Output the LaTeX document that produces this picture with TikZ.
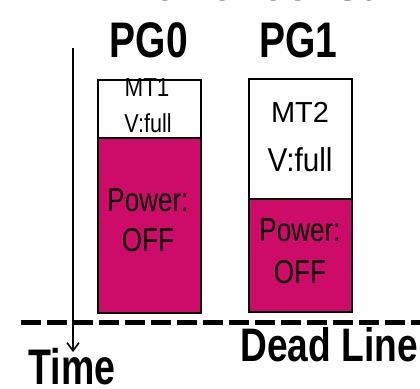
\documentclass[tikz,border=0pt]{standalone}
\usepackage{fontspec}
\setmainfont{Liberation Sans}
\usetikzlibrary{arrows.meta}
\definecolor{pwroff}{RGB}{205,12,105}
\newcommand{\sq}[2]{\scalebox{#1}[1]{#2}}
\tikzset{
  membox/.style={draw=black, line width=1.6pt, fill=white, anchor=north west, inner sep=0pt},
  offbox/.style={draw=black, line width=1.6pt, fill=pwroff, anchor=north west, inner sep=0pt},
  big/.style={inner sep=0pt, font=\fontsize{50}{50}\selectfont\bfseries},
  mid/.style={inner sep=0pt, font=\fontsize{47}{47}\selectfont\bfseries},
  intxt/.style={inner sep=0pt, font=\fontsize{33}{33}\selectfont},
  smalltxt/.style={inner sep=0pt, font=\fontsize{26}{26}\selectfont},
}
\begin{document}
\begin{tikzpicture}[x=1pt, y=-1pt]
\clip (0,0) rectangle (420,388);
\useasboundingbox (0,0) rectangle (420,388);
% title (cut off at top)
\node[inner sep=0pt, anchor=base west, font=\fontsize{42}{42}\selectfont\bfseries] (title) at (124,0.8) {Power consumption};
% labels
\node[big] (pg0) at (149,40) {\sq{0.78}{PG0}};
\node[big] (pg1) at (298.5,40) {\sq{0.78}{PG1}};
% PG0 boxes
\node[membox, minimum width=103pt, minimum height=58pt] (m1) at (97,79) {};
\node[offbox, minimum width=103pt, minimum height=175pt] (p0) at (97,137) {};
% PG1 boxes
\node[membox, minimum width=103pt, minimum height=120pt] (m2) at (248,78) {};
\node[offbox, minimum width=103pt, minimum height=113pt] (p1) at (248,198) {};
% texts inside
\node[smalltxt] (t_mt1) at (147,88) {\sq{0.86}{MT1}};
\node[smalltxt] (t_v1) at (148,123) {\sq{0.83}{V:full}};
\node[intxt] (t_pw0) at (148,200) {\sq{0.79}{Power:}};
\node[intxt] (t_off0) at (148,240) {\sq{0.79}{OFF}};
\node[intxt, font=\fontsize{29}{29}\selectfont] (t_mt2) at (300,112) {MT2};
\node[intxt] (t_v2) at (300,160) {\sq{0.9}{V:full}};
\node[intxt] (t_pw1) at (300,230) {\sq{0.79}{Power:}};
\node[intxt] (t_off1) at (300,272) {\sq{0.79}{OFF}};
% dead line
\coordinate (dl0) at (21,322);
\coordinate (dl1) at (420,322);
\draw[line width=5pt, dash pattern=on 20pt off 6pt] (dl0) -- (dl1);
% time axis
\coordinate (ta0) at (73,48);
\coordinate (ta1) at (73,352);
\draw[line width=1.6pt, -{Straight Barb[length=8pt, width=12pt, line width=1.6pt]}] (ta0) -- (ta1);
\node[big] (time) at (72,367) {\sq{0.75}{Time}};
\node[mid] (dead) at (329,345) {\sq{0.79}{Dead Line}};
\end{tikzpicture}
\end{document}
